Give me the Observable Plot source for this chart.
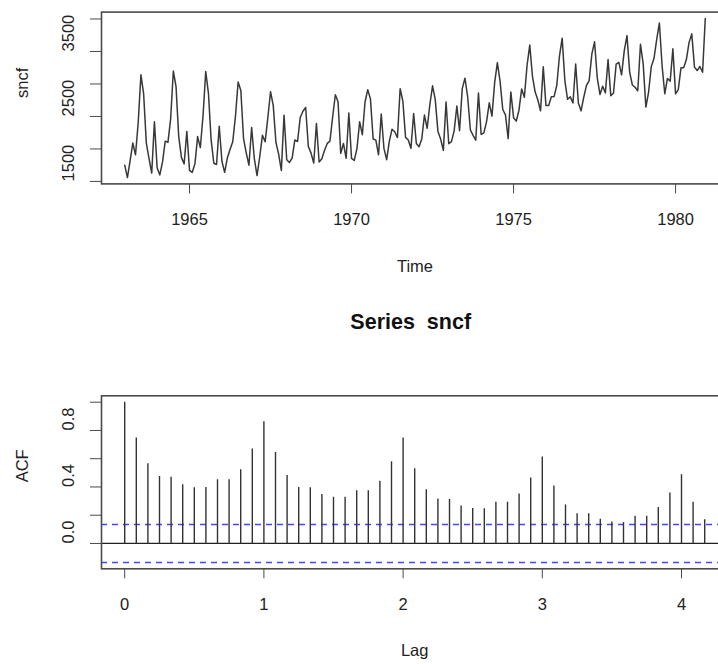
<!DOCTYPE html>
<html>
<head>
<meta charset="utf-8">
<script src="https://cdn.jsdelivr.net/npm/d3@7"></script>
<script src="https://cdn.jsdelivr.net/npm/@observablehq/plot@0.6"></script>
<style>
  html, body { margin: 0; padding: 0; background: #fff; overflow: hidden; }
  #wrap { position: relative; width: 718px; height: 664px; overflow: hidden; background: #fff; }
  #wrap svg { position: absolute; left: 0; max-width: none !important; }
  #wrap svg text { white-space: pre; }
</style>
</head>
<body>
<div id="wrap"></div>
<script>
// ---- Data: monthly SNCF passenger series, Jan 1963 .. Dec 1980 ----
const startYear = 1963;
const sncf = [
  1750, 1560, 1820, 2090, 1910, 2410, 3140, 2850, 2090, 1850, 1630, 2420, // 1963
  1710, 1600, 1800, 2120, 2100, 2460, 3200, 2960, 2190, 1870, 1770, 2270, // 1964
  1670, 1640, 1770, 2190, 2020, 2510, 3190, 2860, 2140, 1780, 1760, 2350, // 1965
  1810, 1640, 1860, 1990, 2110, 2500, 3030, 2900, 2160, 1940, 1750, 2330, // 1966
  1850, 1590, 1880, 2210, 2110, 2480, 2880, 2670, 2100, 1920, 1670, 2520, // 1967
  1834, 1792, 1860, 2138, 2115, 2485, 2581, 2639, 2038, 1936, 1784, 2391, // 1968
  1798, 1850, 1981, 2085, 2120, 2491, 2834, 2725, 1932, 2085, 1856, 2553, // 1969
  1854, 1823, 2005, 2418, 2219, 2722, 2912, 2771, 2153, 2136, 1910, 2537, // 1970
  2008, 1835, 2120, 2304, 2264, 2175, 2928, 2738, 2178, 2137, 2009, 2546, // 1971
  2084, 2034, 2152, 2522, 2318, 2684, 2971, 2759, 2267, 2152, 1978, 2723, // 1972
  2081, 2112, 2279, 2661, 2281, 2929, 3089, 2803, 2296, 2210, 2135, 2862, // 1973
  2223, 2248, 2421, 2710, 2505, 3021, 3327, 3044, 2607, 2525, 2160, 2876, // 1974
  2481, 2428, 2596, 2923, 2795, 3287, 3598, 3118, 2875, 2754, 2588, 3266, // 1975
  2667, 2668, 2804, 2806, 2976, 3430, 3705, 3053, 2764, 2802, 2707, 3307, // 1976
  2706, 2586, 2796, 2978, 3053, 3463, 3649, 3095, 2839, 2966, 2863, 3375, // 1977
  2820, 2857, 3306, 3333, 3141, 3512, 3744, 3179, 2984, 2950, 2896, 3611, // 1978
  3313, 2644, 2872, 3267, 3391, 3682, 3937, 3284, 2849, 3085, 3043, 3541, // 1979
  2848, 2913, 3248, 3250, 3375, 3640, 3771, 3259, 3206, 3269, 3181, 4008  // 1980
];
const monthsPerYear = 12;

// ACF values at lags 0..50 months
const acfValues = [
  1.000, 0.746, 0.564, 0.474, 0.469, 0.415, 0.394, 0.396, 0.451, 0.451, 0.521, 0.668,
  0.862, 0.644, 0.481, 0.396, 0.394, 0.347, 0.327, 0.327, 0.373, 0.373, 0.441, 0.578,
  0.746, 0.529, 0.381, 0.315, 0.312, 0.266, 0.247, 0.245, 0.292, 0.292, 0.350, 0.464,
  0.612, 0.407, 0.273, 0.210, 0.210, 0.171, 0.152, 0.148, 0.193, 0.193, 0.254, 0.357,
  0.487, 0.291, 0.167
];
const confBound = 0.134;

// Tick labels
const timeTicks = [1965, 1970, 1975, 1980];
const sncfTicks = [1500, 2000, 2500, 3000, 3500, 4000];
const sncfTickLabels = [1500, 2500, 3500];
const lagTicks = [0, 1, 2, 3, 4];
const acfTicks = [0, 0.2, 0.4, 0.6, 0.8, 1.0];
const acfTickLabels = [0, 0.4, 0.8];

const chartTitle = "Series  sncf";
const xLabelTop = "Time", yLabelTop = "sncf";
const xLabelBottom = "Lag", yLabelBottom = "ACF";

(function () {
  const series = sncf.map((v, i) => ({t: startYear + i / monthsPerYear, v}));
  const acf = acfValues.map((v, k) => ({lag: k / monthsPerYear, v}));

  const FONT = "'Liberation Sans', Arial, Helvetica, sans-serif";
  const FS = 16.5;
  const INK = "#222";
  const BOX = "#4a4a4a";

  const wrap = document.getElementById("wrap");

  // ---- Top panel: time series ----
  const tMin = d3.min(series, d => d.t), tMax = d3.max(series, d => d.t);
  const vMin = d3.min(sncf), vMax = d3.max(sncf);
  const tPad = (tMax - tMin) * 0.04, vPad = (vMax - vMin) * 0.04;

  const topChart = Plot.plot({
    width: 740, height: 300,
    marginLeft: 101, marginRight: 12, marginTop: 11.6, marginBottom: 116.6,
    style: {fontFamily: FONT, fontSize: FS + "px", color: INK, background: "transparent", overflow: "visible", maxWidth: "none"},
    x: {domain: [tMin - tPad, tMax + tPad]},
    y: {domain: [vMin - vPad, vMax + vPad]},
    marks: [
      Plot.axisX(timeTicks, {tickSize: 10, tickPadding: 19.5, tickFormat: d => String(d), stroke: BOX, fontSize: FS, label: null}),
      Plot.axisY(sncfTicks, {tickSize: 11, tickFormat: () => "", stroke: BOX, label: null}),
      Plot.text(sncfTickLabels, {y: d => d, text: d => String(d), frameAnchor: "left", dx: -33, rotate: -90, lineAnchor: "middle", fontSize: FS, fill: INK}),
      Plot.text([yLabelTop], {frameAnchor: "left", dx: -79, rotate: -90, lineAnchor: "middle", fontSize: FS, fill: INK}),
      Plot.text([xLabelTop], {frameAnchor: "bottom", dy: 83, lineAnchor: "middle", fontSize: FS, fill: INK}),
      Plot.line(series, {x: "t", y: "v", stroke: "#383838", strokeWidth: 1.5}),
      Plot.frame({stroke: BOX, strokeWidth: 1.6})
    ]
  });
  topChart.style.top = "0px";
  wrap.appendChild(topChart);

  // ---- Bottom panel: ACF ----
  const lagMax = d3.max(acf, d => d.lag);
  const lPad = lagMax * 0.04;
  const yLo = Math.min(-confBound, d3.min(acfValues)), yHi = Math.max(confBound, d3.max(acfValues));
  const aPad = (yHi - yLo) * 0.04;

  const bottomChart = Plot.plot({
    width: 740, height: 364,
    marginLeft: 101, marginRight: 12.6, marginTop: 95.3, marginBottom: 95.7,
    style: {fontFamily: FONT, fontSize: FS + "px", color: INK, background: "transparent", overflow: "visible", maxWidth: "none"},
    x: {domain: [0 - lPad, lagMax + lPad]},
    y: {domain: [yLo - aPad, yHi + aPad]},
    marks: [
      Plot.axisX(lagTicks, {tickSize: 10, tickPadding: 19.5, tickFormat: d => String(d), stroke: BOX, fontSize: FS, label: null}),
      Plot.axisY(acfTicks, {tickSize: 11, tickFormat: () => "", stroke: BOX, label: null}),
      Plot.text(acfTickLabels, {y: d => d, text: d => d.toFixed(1), frameAnchor: "left", dx: -33, rotate: -90, lineAnchor: "middle", fontSize: FS, fill: INK}),
      Plot.text([yLabelBottom], {frameAnchor: "left", dx: -79, rotate: -90, lineAnchor: "middle", fontSize: FS, fill: INK}),
      Plot.text([xLabelBottom], {frameAnchor: "bottom", dy: 82.4, lineAnchor: "middle", fontSize: FS, fill: INK}),
      Plot.text([chartTitle], {frameAnchor: "top", dy: -73.3, dx: -4, lineAnchor: "middle", fontSize: 21.5, fontWeight: "bold", fill: "#111"}),
      Plot.ruleY([confBound, -confBound], {stroke: "#4646ff", strokeWidth: 1.5, strokeDasharray: "6,5"}),
      Plot.ruleY([0], {stroke: "#222", strokeWidth: 1.3}),
      Plot.ruleX(acf, {x: "lag", y1: 0, y2: "v", stroke: "#333", strokeWidth: 1.4}),
      Plot.frame({stroke: BOX, strokeWidth: 1.6})
    ]
  });
  bottomChart.style.top = "300px";
  wrap.appendChild(bottomChart);
})();
</script>
</body>
</html>
